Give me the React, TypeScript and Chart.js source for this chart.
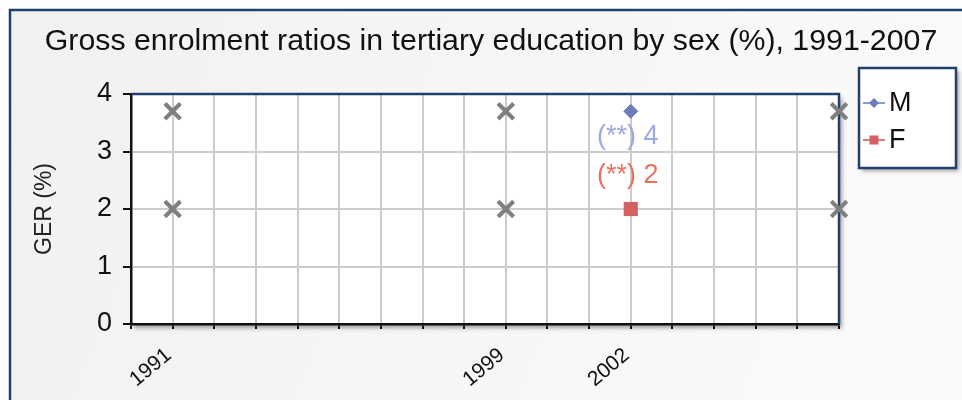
import React, { useEffect, useRef } from 'react';
import { Chart, registerables } from 'chart.js';

Chart.register(...registerables);

// ---- data ----
const years = [1991, 1999, 2002, 2007];
const maleGER = [null, null, 3.7, null];
const femaleGER = [null, null, 2.0, null];
const greyUpper = [3.7, 3.7, null, 3.7];
const greyLower = [2.0, 2.0, null, 2.0];
const xLabelYears = [1991, 1999, 2002];
const seriesNames = ['M', 'F'];
const labelNote = '(**)';
const titleText = 'Gross enrolment ratios in tertiary education by sex (%), 1991-2007';
const yAxisTitle = 'GER (%)';
const xMin = 1990;
const xMax = 2007;
const yMin = 0;
const yMax = 4;

const FONT = "'Liberation Sans', Arial, Helvetica, sans-serif";
const M_COLOR = '#6d7cba';
const M_LINE = '#8a98cc';
const M_LABEL = '#9ea8e4';
const F_COLOR = '#d65f5f';
const F_LINE = '#e07b7b';
const F_LABEL = '#e7735f';
const GREY = '#7f7f7f';
const NAVY = '#21406e';

const toPoints = (vals: (number | null)[]) =>
  years
    .map((x, i) => ({ x, y: vals[i] }))
    .filter((p) => p.y !== null) as { x: number; y: number }[];

const decor = {
  id: 'decor',
  beforeDraw(chart: any) {
    const { ctx, chartArea: a, width, height } = chart;
    ctx.save();
    ctx.fillStyle = '#ffffff';
    ctx.fillRect(0, 0, width, height);
    const g = ctx.createLinearGradient(10, 10, width, height);
    g.addColorStop(0, '#f1f1f1');
    g.addColorStop(1, '#fbfbfb');
    ctx.fillStyle = g;
    ctx.fillRect(10, 10, width, height);
    ctx.strokeStyle = NAVY;
    ctx.lineWidth = 2.5;
    ctx.strokeRect(10, 10, width + 20, height + 20);

    ctx.shadowColor = 'rgba(0,0,0,0.35)';
    ctx.shadowOffsetX = 3;
    ctx.shadowOffsetY = 4;
    ctx.shadowBlur = 4;
    ctx.fillStyle = '#ffffff';
    ctx.fillRect(a.left, a.top, a.right - a.left, a.bottom - a.top);
    ctx.restore();

    ctx.save();
    ctx.fillStyle = '#111111';
    ctx.font = `30.3px ${FONT}`;
    ctx.textAlign = 'center';
    ctx.textBaseline = 'alphabetic';
    ctx.fillText(titleText, 491, 50);
    ctx.restore();
  },
  beforeDatasetsDraw(chart: any) {
    const { ctx, chartArea: a } = chart;
    ctx.save();
    ctx.strokeStyle = NAVY;
    ctx.lineWidth = 2.5;
    ctx.beginPath();
    ctx.moveTo(a.left, a.top);
    ctx.lineTo(a.right, a.top);
    ctx.lineTo(a.right, a.bottom);
    ctx.stroke();
    ctx.restore();
  },
  afterDatasetsDraw(chart: any) {
    const { ctx } = chart;
    const xs = chart.scales.x;
    const ys = chart.scales.y;
    ctx.save();
    ctx.font = `27px ${FONT}`;
    ctx.textAlign = 'center';
    ctx.textBaseline = 'middle';
    years.forEach((yr, i) => {
      const m = maleGER[i];
      const f = femaleGER[i];
      const px = xs.getPixelForValue(yr);
      if (m !== null) {
        ctx.fillStyle = M_LABEL;
        ctx.fillText(`${labelNote} ${Math.round(m)}`, px - 3, ys.getPixelForValue(m) + 25);
      }
      if (f !== null) {
        ctx.fillStyle = F_LABEL;
        ctx.fillText(`${labelNote} ${Math.round(f)}`, px - 3, ys.getPixelForValue(f) - 33);
      }
    });
    ctx.restore();
  },
  afterDraw(chart: any) {
    const { ctx } = chart;
    const bx = 859, by = 68, bw = 97, bh = 100;
    ctx.save();
    ctx.shadowColor = 'rgba(0,0,0,0.35)';
    ctx.shadowOffsetX = 3;
    ctx.shadowOffsetY = 3;
    ctx.shadowBlur = 4;
    ctx.fillStyle = '#ffffff';
    ctx.fillRect(bx, by, bw, bh);
    ctx.restore();
    ctx.save();
    ctx.strokeStyle = NAVY;
    ctx.lineWidth = 2.5;
    ctx.strokeRect(bx, by, bw, bh);
    const items = [
      { name: seriesNames[0], line: M_LINE, color: M_COLOR, style: 'diamond', y: 103 },
      { name: seriesNames[1], line: F_LINE, color: F_COLOR, style: 'square', y: 140 },
    ];
    items.forEach((it) => {
      ctx.strokeStyle = it.line;
      ctx.lineWidth = 2;
      ctx.beginPath();
      ctx.moveTo(863, it.y);
      ctx.lineTo(885, it.y);
      ctx.stroke();
      ctx.fillStyle = it.color;
      ctx.beginPath();
      if (it.style === 'diamond') {
        ctx.moveTo(874, it.y - 5);
        ctx.lineTo(879, it.y);
        ctx.lineTo(874, it.y + 5);
        ctx.lineTo(869, it.y);
        ctx.closePath();
      } else {
        ctx.rect(869.5, it.y - 4.5, 9, 9);
      }
      ctx.fill();
      ctx.fillStyle = '#111111';
      ctx.font = `27px ${FONT}`;
      ctx.textAlign = 'left';
      ctx.textBaseline = 'middle';
      ctx.fillText(it.name, 889, it.y + 1);
    });
    ctx.restore();
  },
};

export default function App() {
  const canvasRef = useRef<HTMLCanvasElement | null>(null);

  useEffect(() => {
    if (!canvasRef.current) return;
    const chart = new Chart(canvasRef.current, {
      type: 'scatter',
      data: {
        datasets: [
          {
            label: 'grey-upper',
            data: toPoints(greyUpper),
            pointStyle: 'crossRot',
            pointRadius: 11,
            borderWidth: 4,
            borderColor: GREY,
            backgroundColor: GREY,
            showLine: false,
            clip: false,
          },
          {
            label: 'grey-lower',
            data: toPoints(greyLower),
            pointStyle: 'crossRot',
            pointRadius: 11,
            borderWidth: 4,
            borderColor: GREY,
            backgroundColor: GREY,
            showLine: false,
            clip: false,
          },
          {
            label: seriesNames[0],
            data: toPoints(maleGER),
            pointStyle: 'rectRot',
            pointRadius: 7,
            borderWidth: 1,
            borderColor: M_COLOR,
            backgroundColor: M_COLOR,
            showLine: false,
            clip: false,
          },
          {
            label: seriesNames[1],
            data: toPoints(femaleGER),
            pointStyle: 'rect',
            pointRadius: 10,
            borderWidth: 0,
            borderColor: F_COLOR,
            backgroundColor: F_COLOR,
            showLine: false,
            clip: false,
          },
        ] as any,
      },
      options: {
        animation: false,
        responsive: true,
        maintainAspectRatio: false,
        layout: { padding: { top: 94, right: 123, left: 0, bottom: 0 } },
        plugins: {
          legend: { display: false },
          title: { display: false },
          tooltip: { enabled: false },
        },
        scales: {
          x: {
            type: 'linear',
            min: xMin,
            max: xMax,
            ticks: {
              stepSize: 1,
              maxTicksLimit: 40,
              autoSkip: false,
              minRotation: 40,
              maxRotation: 40,
              padding: 14,
              labelOffset: -4,
              color: '#111111',
              font: { family: FONT, size: 21 },
              callback: (v: any) => (xLabelYears.includes(Number(v)) ? String(v) : ''),
            },
            grid: {
              color: '#cccccc',
              lineWidth: 2,
              tickColor: '#111111',
              tickLength: 5,
              tickWidth: 2,
            },
            border: { color: '#111111', width: 2.5 },
            afterFit: (s: any) => {
              s.height = 76;
            },
          },
          y: {
            type: 'linear',
            min: yMin,
            max: yMax,
            ticks: {
              stepSize: 1,
              padding: 11,
              color: '#111111',
              font: { family: FONT, size: 27 },
            },
            grid: {
              color: '#cccccc',
              lineWidth: 2,
              tickColor: '#111111',
              tickLength: 8,
              tickWidth: 2,
            },
            border: { color: '#111111', width: 2.5 },
            title: {
              display: true,
              text: yAxisTitle,
              color: '#222222',
              font: { family: FONT, size: 23 },
              padding: { top: 31, bottom: 0 },
            },
            afterFit: (s: any) => {
              s.width = 131;
            },
          },
        },
      } as any,
      plugins: [decor],
    });
    return () => chart.destroy();
  }, []);

  return (
    <div style={{ position: 'absolute', left: 0, top: 0, width: 962, height: 400 }}>
      <canvas ref={canvasRef} />
    </div>
  );
}
